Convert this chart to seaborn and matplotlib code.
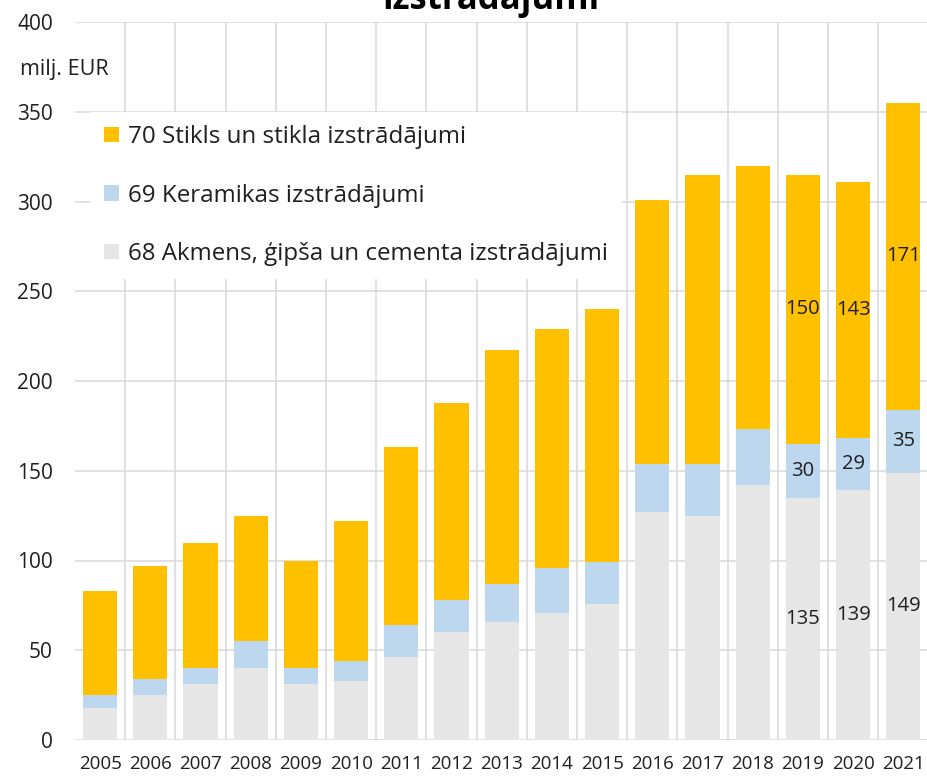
import matplotlib
matplotlib.use("Agg")
import matplotlib.pyplot as plt
from matplotlib.patches import Patch
from matplotlib.ticker import FixedLocator
import seaborn as sns
import pandas as pd
import numpy as np

# Data (milj. EUR)
years = [str(y) for y in range(2005, 2022)]
cement_68 = [18, 25, 31, 40, 31, 33, 46, 60, 66, 71, 76, 127, 125, 142, 135, 139, 149]
ceramics_69 = [7, 9, 9, 15, 9, 11, 18, 18, 21, 25, 23, 27, 29, 31, 30, 29, 35]
glass_70 = [58, 63, 70, 70, 60, 78, 99, 110, 130, 133, 141, 147, 161, 147, 150, 143, 171]
labelled_years = ["2019", "2020", "2021"]

series_names = [
    "70 Stikls un stikla izstrādājumi",
    "69 Keramikas izstrādājumi",
    "68 Akmens, ģipša un cementa izstrādājumi",
]
colors = ["#FFC000", "#BDD7EE", "#E7E6E6"]
text_color = "#1f1f1f"

df = pd.DataFrame({"year": years, "c68": cement_68, "c69": ceramics_69, "c70": glass_70})
df["lvl2"] = df["c68"] + df["c69"]
df["lvl3"] = df["lvl2"] + df["c70"]

sns.set_theme(style="white")
plt.rcParams["font.family"] = ["Open Sans", "DejaVu Sans"]

fig = plt.figure(figsize=(9.28, 7.77), dpi=100)
ax = fig.add_axes([75 / 928, 37 / 777, 853.4 / 928, 718 / 777])

bar_w = 0.68
# stacked by overlaying cumulative totals
sns.barplot(data=df, x="year", y="lvl3", color=colors[0], saturation=1, width=bar_w, ax=ax, zorder=2)
sns.barplot(data=df, x="year", y="lvl2", color=colors[1], saturation=1, width=bar_w, ax=ax, zorder=3)
sns.barplot(data=df, x="year", y="c68", color=colors[2], saturation=1, width=bar_w, ax=ax, zorder=4)
for p in ax.patches:
    p.set_linewidth(0)

# value labels for the last years
for i, yr in enumerate(years):
    if yr not in labelled_years:
        continue
    segs = [(0, cement_68[i]), (cement_68[i], ceramics_69[i]), (cement_68[i] + ceramics_69[i], glass_70[i])]
    for base, val in segs:
        ax.text(i, base + val / 2, str(val), ha="center", va="center",
                fontsize=14.5, color=text_color, zorder=6)

ax.set_xlim(-0.5, len(years) - 0.5)
ax.set_ylim(0, 400)
ax.set_yticks(np.arange(0, 401, 50))
ax.xaxis.set_minor_locator(FixedLocator(np.arange(0.5, len(years) - 1, 1)))
ax.set_axisbelow(True)
ax.grid(axis="y", which="major", color="#d9d9d9", linewidth=1.1)
ax.grid(axis="x", which="minor", color="#d9d9d9", linewidth=1.1)
ax.grid(axis="x", which="major", visible=False)
for s in ax.spines.values():
    s.set_visible(False)
ax.tick_params(axis="y", length=0, pad=16, labelsize=15, labelcolor=text_color)
ax.tick_params(axis="x", which="both", length=0, pad=11, labelsize=13.5, labelcolor=text_color)
ax.set_xlabel("")
ax.set_ylabel("")

handles = [Patch(facecolor=c, edgecolor="none") for c in colors]
leg = ax.legend(handles, series_names, loc="upper left",
                bbox_to_anchor=(16 / 853.4, 628 / 718), borderaxespad=0,
                frameon=True, facecolor="white", edgecolor="none", framealpha=1,
                fancybox=False, fontsize=17.4, handlelength=0.6, handleheight=0.6,
                handletextpad=0.4, labelspacing=1.42, borderpad=0.55)
for t in leg.get_texts():
    t.set_color(text_color)
leg.set_zorder(10)

fig.text(20 / 928, 1 - 70 / 777, "milj. EUR", ha="left", va="center",
         fontsize=15.5, color=text_color)
fig.text(491 / 928, 1 - 9 / 777, "izstrādājumi", ha="center", va="baseline",
         fontsize=25, fontweight="bold", color="black")

fig.savefig("out.png", dpi=100)
